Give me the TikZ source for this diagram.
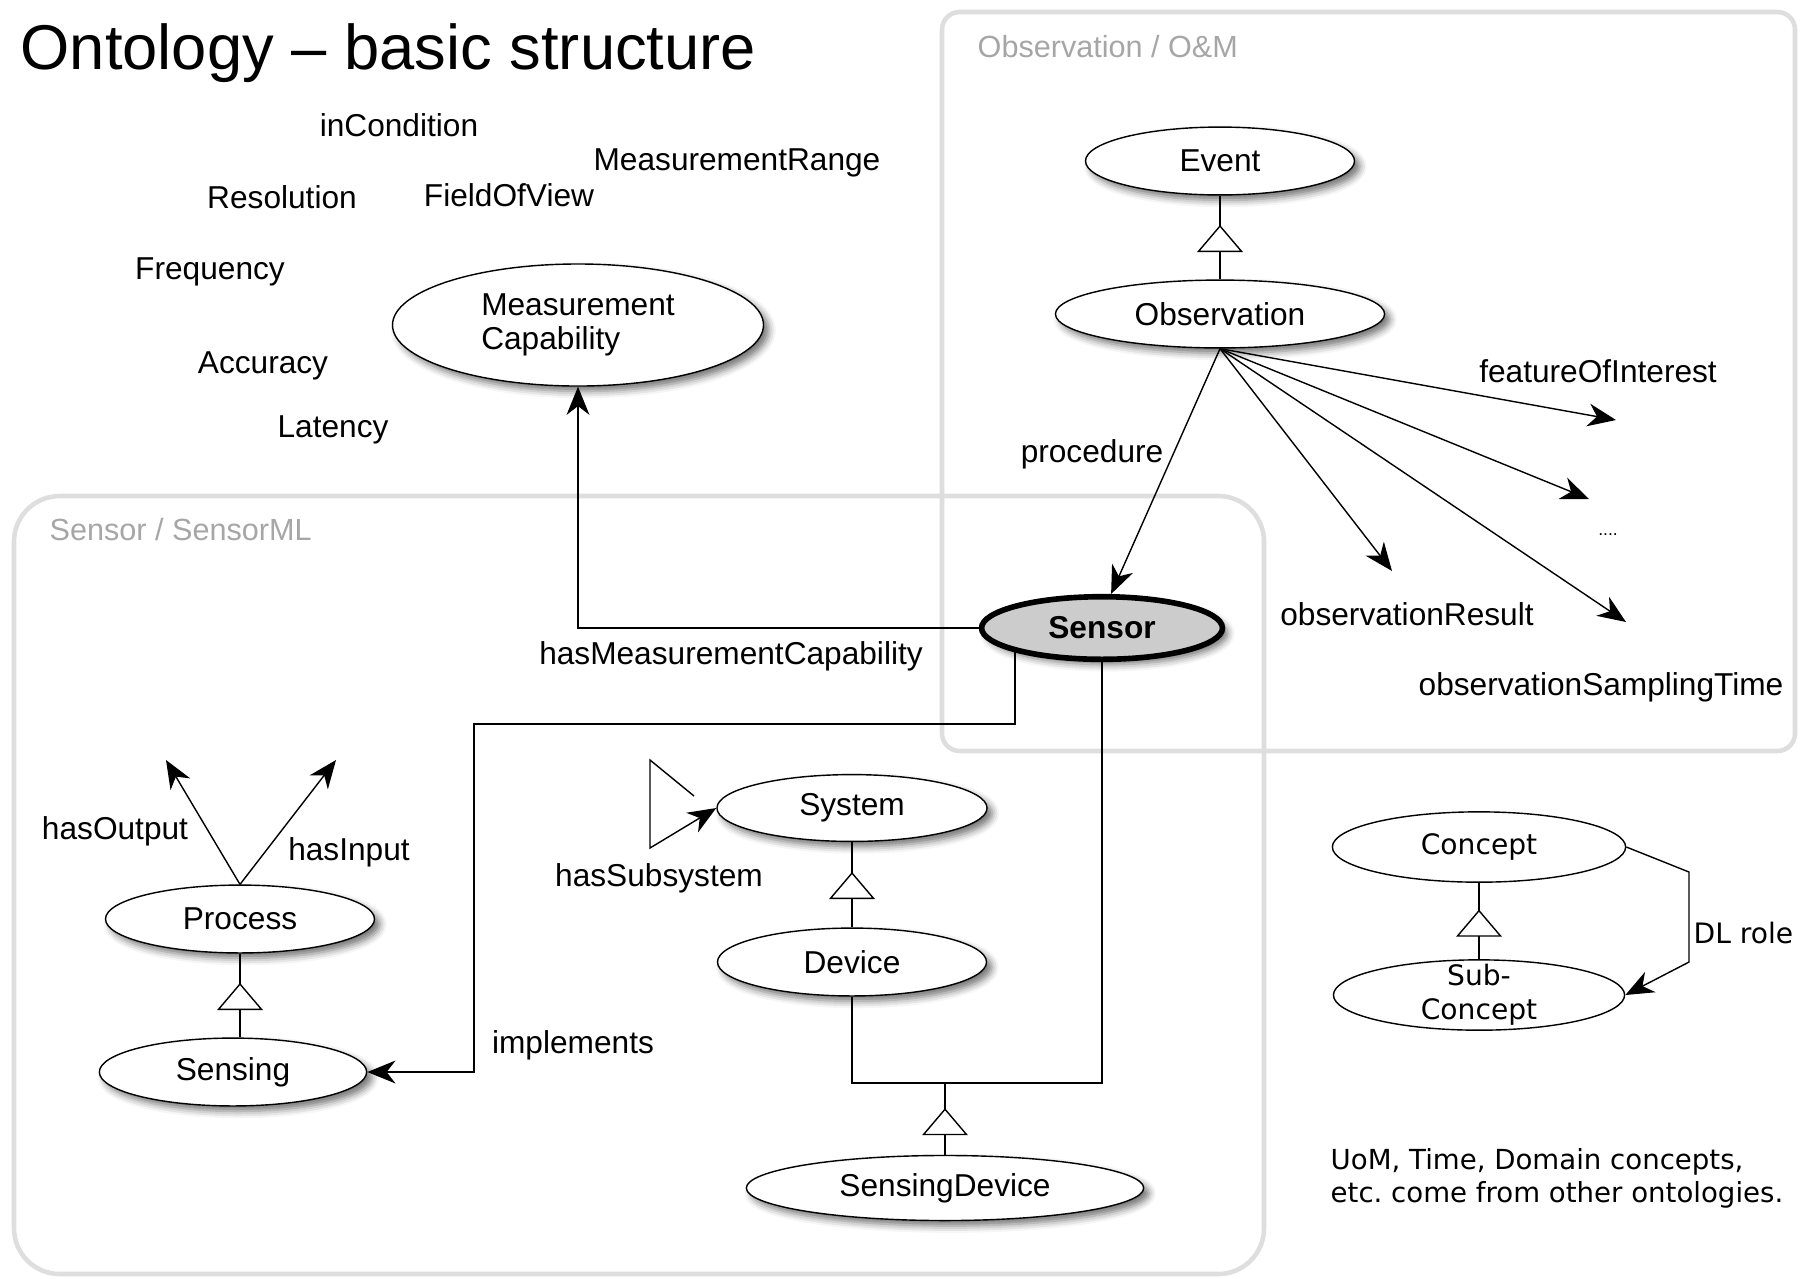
\documentclass[tikz,border=0pt]{standalone}
\usepackage{fontspec}
\setmainfont{Liberation Sans}
\newfontfamily\dejavu{DejaVu Sans}
\usetikzlibrary{shapes.geometric,arrows.meta,decorations.markings,shadows.blur}

\begin{document}
\begin{tikzpicture}[x=0.01cm, y=-0.01cm,
	font = \fontsize{9}{9.6}\selectfont,
	area/.style = {draw = black!13, line width = 1.3pt},
	cls/.style = {ellipse, draw, fill = white, inner sep = 1pt, minimum width = #1, minimum height = 19.3pt,
		blur shadow = {shadow xshift = 1.5pt, shadow yshift = -1.5pt, shadow blur radius = 2pt, shadow opacity = 55}},
	cpt/.style = {ellipse, draw, fill = white, inner sep = 1pt, minimum width = #1, minimum height = 20pt,
		font = \dejavu\fontsize{8}{9.6}\selectfont},
	rel/.style = {-{Stealth[length = 8pt, width = 6.5pt, inset = 2.5pt]}},
	isa/.style = {decoration = {markings, mark = at position 0.65 with {\arrow{Triangle[length = 7.7pt, width = 13pt, fill = white]}}},
		postaction = {decorate}},
	lbl/.style = {inner sep = 0pt, text height = 7.8pt, text depth = 1.1pt}]
	\useasboundingbox (0,0) rectangle (1819,1278);

	\draw[area, rounded corners = 5pt] (942,12) rectangle (1795,751);
	\draw[area, rounded corners = 13pt] (14,496) rectangle (1264,1274);
	\node[lbl, anchor = west, text = black!35, font = \fontsize{8.7}{10}\selectfont] (obsarea) at (977,46) {Observation / O\&M};
	\node[lbl, anchor = west, text = black!35, font = \fontsize{8.7}{10}\selectfont] (senarea) at (49,529) {Sensor / SensorML};
	\node[anchor = west, inner sep = 0pt, font = \fontsize{18}{20}\selectfont] (title) at (20,53) {Ontology – basic structure};

	\node[cls = 76.5pt] (event) at (1220,161) {Event};
	\node[cls = 93.6pt] (obs) at (1220,314) {Observation};
	\node[cls = 105.5pt, minimum height = 34.7pt, align = left] (mcap) at (578,325) {Measurement\\Capability};
	\node[cls = 68.5pt, minimum height = 17.8pt, line width = 1.6pt, fill = black!20] (sensor) at (1102,628) {\bfseries Sensor};
	\node[cls = 76.8pt, minimum height = 19pt] (sys) at (852,808) {System};
	\node[cls = 76.5pt] (dev) at (852,962) {Device};
	\node[cls = 113pt, minimum height = 18.5pt] (sdev) at (945,1188) {SensingDevice};
	\node[cls = 76.5pt] (proc) at (240,919) {Process};
	\node[cls = 76pt] (sensing) at (233,1072) {Sensing};
	\node[cpt = 83.4pt] (concept) at (1479,847) {Concept};
	\node[cpt = 82.8pt, inner ysep = -3pt, align = center] (sub) at (1479,995) {Sub-\\Concept};

	\draw[isa] (obs) -- (event);
	\draw[isa] (dev) -- (sys);
	\draw[isa] (proc.south |- sensing.north) -- (proc.south);
	\draw[isa] (sub) -- (concept);
	\coordinate (join) at (945,1083);
	\draw (dev.south) |- (join) -| (sensor.south);
	\draw[isa] (sdev.north) -- (join);

	\coordinate (foi) at (1616,420);
	\coordinate (dots) at (1589,499);
	\coordinate (res) at (1392,571);
	\coordinate (stime) at (1626,622);
	\draw[rel] (obs.south) -- (sensor.75);
	\draw[rel] (obs.south) -- (foi);
	\draw[rel] (obs.south) -- (dots);
	\draw[rel] (obs.south) -- (res);
	\draw[rel] (obs.south) -- (stime);

	\draw[rel] (sensor.west) -| (mcap.south);
	\coordinate (bend) at (474,724);
	\draw[rel] (sensor.south west) |- (bend) |- (sensing.east);

	\coordinate (out) at (166,760);
	\coordinate (in) at (336,760);
	\draw[rel] (proc.north) -- (out);
	\draw[rel] (proc.north) -- (in);

	\coordinate (ss1) at (694,796);
	\coordinate (ss2) at (650,760);
	\coordinate (ss3) at (650,848);
	\draw[rel] (ss1) -- (ss2) -- (ss3) -- (sys.west);

	\coordinate (dl1) at (1689,872);
	\coordinate (dl2) at (1689,962);
	\draw[rel] (concept.east) -- (dl1) -- (dl2) -- (sub.east);

	\node[lbl] (lproc) at (1092,451) {procedure};
	\node[lbl] (lfoi) at (1598,371) {featureOfInterest};
	\node[inner sep = 0pt, font = \fontsize{5}{6}\selectfont] (ldots) at (1608,535) {....};
	\node[lbl] (lres) at (1407,614) {observationResult};
	\node[lbl] (ltime) at (1601,684) {observationSamplingTime};
	\node[lbl] (lmc) at (731,653) {hasMeasurementCapability};
	\node[lbl] (limpl) at (573,1042) {implements};
	\node[lbl] (lout) at (115,828) {hasOutput};
	\node[lbl] (lin) at (349,849) {hasInput};
	\node[lbl] (lsub) at (659,875) {hasSubsystem};
	\node[lbl, anchor = west, font = \dejavu\fontsize{8}{9.6}\selectfont] (ldl) at (1693,932) {DL role};

	\node[lbl] (lcond) at (399,125) {inCondition};
	\node[lbl] (lrange) at (737,159) {MeasurementRange};
	\node[lbl] (lresol) at (282,197) {Resolution};
	\node[lbl] (lfov) at (509,195) {FieldOfView};
	\node[lbl] (lfreq) at (210,268) {Frequency};
	\node[lbl] (lacc) at (263,362) {Accuracy};
	\node[lbl] (llat) at (333,426) {Latency};

	\node[anchor = west, inner sep = 0pt, align = left, font = \dejavu\fontsize{7.85}{9.4}\selectfont] (note) at (1330,1178) {UoM, Time, Domain concepts,\\etc.\ come from other ontologies.};
\end{tikzpicture}
\end{document}
